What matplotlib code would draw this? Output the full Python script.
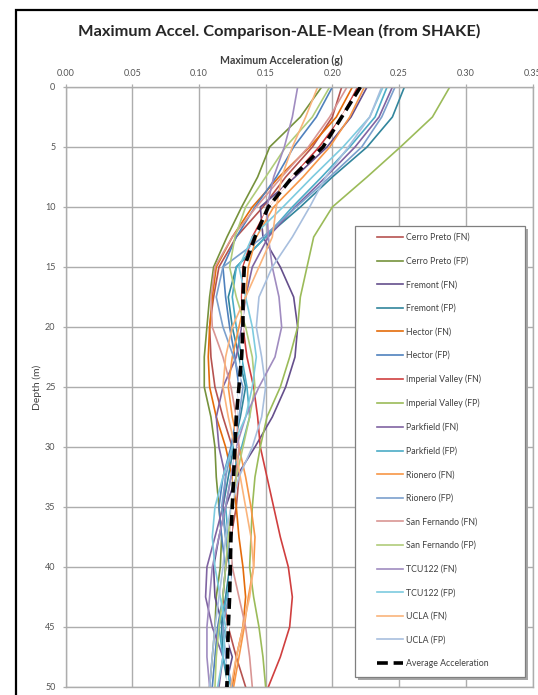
import matplotlib
matplotlib.use('Agg')
import matplotlib.pyplot as plt
from matplotlib.patches import Rectangle

plt.rcParams['font.family'] = ['Lato', 'DejaVu Sans']

depth = [0, 2.5, 5, 7.5, 10, 12.5, 15, 17.5, 20, 22.5, 25, 27.5, 30,
         32.5, 35, 37.5, 40, 42.5, 45, 47.5, 50]

names = ['Cerro Preto (FN)', 'Cerro Preto (FP)', 'Fremont (FN)', 'Fremont (FP)',
         'Hector (FN)', 'Hector (FP)', 'Imperial Valley (FN)', 'Imperial Valley (FP)',
         'Parkfield (FN)', 'Parkfield (FP)', 'Rionero (FN)', 'Rionero (FP)',
         'San Fernando (FN)', 'San Fernando (FP)', 'TCU122 (FN)', 'TCU122 (FP)',
         'UCLA (FN)', 'UCLA (FP)']

colors = ['#B65350', '#76923C', '#654F8C', '#31859C', '#E46C0A', '#4F81BD',
          '#D03F3F', '#9BBB59', '#8064A2', '#4BACC6', '#F79646', '#7BA0CD',
          '#D99694', '#B0CC7A', '#A08CC0', '#7DCBDF', '#FAB47C', '#A8BFDE']

cerro_fn = [0.207, 0.200, 0.185, 0.165, 0.148, 0.128, 0.115, 0.111, 0.108, 0.109, 0.112,
            0.118, 0.125, 0.130, 0.128, 0.124, 0.120, 0.118, 0.122, 0.128, 0.135]
cerro_fp = [0.192, 0.176, 0.153, 0.144, 0.132, 0.121, 0.111, 0.108, 0.106, 0.104, 0.104,
            0.109, 0.112, 0.113, 0.115, 0.117, 0.116, 0.113, 0.112, 0.110, 0.108]
fremont_fn = [0.226, 0.214, 0.196, 0.172, 0.146, 0.148, 0.161, 0.171, 0.174, 0.172, 0.165,
              0.155, 0.142, 0.128, 0.120, 0.115, 0.111, 0.112, 0.118, 0.125, 0.120]
fremont_fp = [0.254, 0.245, 0.226, 0.200, 0.176, 0.150, 0.128, 0.122, 0.125, 0.130, 0.135,
              0.131, 0.126, 0.122, 0.118, 0.120, 0.123, 0.120, 0.117, 0.118, 0.122]
hector_fn = [0.215, 0.203, 0.183, 0.160, 0.140, 0.125, 0.113, 0.110, 0.108, 0.107, 0.108,
             0.113, 0.120, 0.125, 0.128, 0.130, 0.133, 0.135, 0.133, 0.128, 0.125]
hector_fp = [0.200, 0.188, 0.171, 0.158, 0.142, 0.128, 0.118, 0.120, 0.123, 0.127, 0.130,
             0.128, 0.124, 0.118, 0.115, 0.117, 0.120, 0.118, 0.114, 0.112, 0.110]
imperial_fn = [0.219, 0.207, 0.190, 0.170, 0.152, 0.140, 0.133, 0.132, 0.133, 0.136, 0.141,
               0.144, 0.146, 0.151, 0.156, 0.161, 0.167, 0.170, 0.168, 0.161, 0.152]
imperial_fp = [0.288, 0.275, 0.251, 0.226, 0.200, 0.186, 0.181, 0.176, 0.174, 0.168, 0.161,
               0.151, 0.146, 0.142, 0.140, 0.139, 0.138, 0.141, 0.145, 0.148, 0.150]
parkfield_fn = [0.245, 0.235, 0.217, 0.195, 0.172, 0.152, 0.140, 0.135, 0.132, 0.128, 0.118,
                0.113, 0.115, 0.120, 0.118, 0.112, 0.106, 0.105, 0.110, 0.118, 0.115]
parkfield_fp = [0.241, 0.232, 0.213, 0.192, 0.170, 0.150, 0.128, 0.125, 0.128, 0.132, 0.136,
                0.138, 0.132, 0.124, 0.120, 0.122, 0.125, 0.121, 0.115, 0.118, 0.124]
rionero_fn = [0.224, 0.213, 0.198, 0.178, 0.156, 0.143, 0.137, 0.135, 0.130, 0.125, 0.122,
              0.125, 0.130, 0.135, 0.139, 0.142, 0.141, 0.137, 0.134, 0.130, 0.126]
rionero_fp = [0.247, 0.237, 0.222, 0.198, 0.173, 0.148, 0.118, 0.113, 0.118, 0.126, 0.133,
              0.130, 0.125, 0.120, 0.117, 0.120, 0.125, 0.122, 0.118, 0.120, 0.125]
sanfer_fn = [0.211, 0.198, 0.182, 0.162, 0.143, 0.125, 0.112, 0.109, 0.110, 0.118, 0.124,
             0.128, 0.130, 0.128, 0.125, 0.123, 0.125, 0.130, 0.135, 0.138, 0.140]
sanfer_fp = [0.198, 0.185, 0.165, 0.150, 0.135, 0.127, 0.123, 0.128, 0.135, 0.140, 0.142,
             0.138, 0.133, 0.128, 0.124, 0.122, 0.120, 0.118, 0.115, 0.113, 0.112]
tcu_fn = [0.174, 0.170, 0.164, 0.156, 0.151, 0.152, 0.155, 0.160, 0.162, 0.157, 0.145,
          0.135, 0.128, 0.124, 0.120, 0.115, 0.110, 0.108, 0.106, 0.106, 0.108]
tcu_fp = [0.238, 0.228, 0.208, 0.185, 0.163, 0.140, 0.130, 0.135, 0.140, 0.143, 0.140,
          0.135, 0.125, 0.118, 0.112, 0.110, 0.112, 0.116, 0.120, 0.118, 0.114]
ucla_fn = [0.189, 0.180, 0.170, 0.162, 0.158, 0.155, 0.145, 0.135, 0.125, 0.120, 0.118,
           0.122, 0.127, 0.131, 0.135, 0.139, 0.141, 0.138, 0.133, 0.128, 0.124]
ucla_fp = [0.237, 0.228, 0.212, 0.195, 0.183, 0.170, 0.155, 0.145, 0.143, 0.147, 0.150,
           0.147, 0.140, 0.130, 0.124, 0.120, 0.118, 0.115, 0.112, 0.110, 0.108]

average = [0.221, 0.207, 0.193, 0.170, 0.152, 0.142, 0.134, 0.133, 0.133, 0.132, 0.130,
           0.128, 0.127, 0.126, 0.125, 0.124, 0.1235, 0.123, 0.122, 0.1215, 0.121]

series = [cerro_fn, cerro_fp, fremont_fn, fremont_fp, hector_fn, hector_fp,
          imperial_fn, imperial_fp, parkfield_fn, parkfield_fp, rionero_fn, rionero_fp,
          sanfer_fn, sanfer_fp, tcu_fn, tcu_fp, ucla_fn, ucla_fp]

W, H = 538, 695


def fx(x):
    return x / W


def fy(y):
    return 1 - y / H


fig = plt.figure(figsize=(W / 100, H / 100), dpi=100)
fig.patch.set_facecolor('white')

# chart border (runs off the right and bottom of the image)
fig.patches.append(Rectangle((fx(16), fy(720)), fx(560 - 16), (720 - 10) / H,
                             transform=fig.transFigure, fill=False,
                             edgecolor='black', linewidth=1.6, zorder=1))

ax = fig.add_axes([fx(65.5), fy(687), (532.5 - 65.5) / W, (687 - 87) / H])
grid_c = '#ADADAD'

handles = []
for vals, name, c in zip(series, names, colors):
    h, = ax.plot(vals, depth, color=c, lw=1.2, label=name, zorder=2)
    handles.append(h)

ax.plot(average, depth, color='white', lw=1.2, zorder=3)
avg_h, = ax.plot(average, depth, color='black', lw=2.6, linestyle=(0, (3, 1.6)),
                 label='Average Acceleration', zorder=4)
handles.append(avg_h)

ax.set_xlim(0, 0.35)
ax.set_ylim(50, 0)
ax.set_xticks([0, 0.05, 0.10, 0.15, 0.20, 0.25, 0.30, 0.35])
ax.set_xticklabels(['0.00', '0.05', '0.10', '0.15', '0.20', '0.25', '0.30', '0.35'])
ax.set_yticks(range(0, 51, 5))
ax.xaxis.tick_top()
ax.tick_params(axis='both', labelsize=6.5, colors=grid_c, labelcolor='#555555',
               length=2.2, width=0.9)
ax.tick_params(axis='y', pad=5)
ax.tick_params(axis='x', pad=4)
ax.grid(True, color=grid_c, lw=1.0)
ax.set_axisbelow(True)
for s in ax.spines.values():
    s.set_color(grid_c)
    s.set_linewidth(1.0)

fig.text(fx(279), fy(31), 'Maximum Accel. Comparison-ALE-Mean (from SHAKE)',
         ha='center', va='center', fontsize=11.8, fontweight='bold', color='#262626')
fig.text(fx(281), fy(60), 'Maximum Acceleration (g)', ha='center', va='center',
         fontsize=7.6, fontweight='bold', color='#404040')
fig.text(fx(37), fy(387), 'Depth (m)', ha='center', va='center', rotation=90,
         fontsize=7.5, color='#404040')

# legend box with drop shadow
fig.patches.append(Rectangle((fx(358), fy(680)), (525 - 355) / W, (677 - 226) / H,
                             transform=fig.transFigure, facecolor='#A6A6A6',
                             edgecolor='none', zorder=4))
fig.patches.append(Rectangle((fx(355), fy(677)), (525 - 355) / W, (677 - 226) / H,
                             transform=fig.transFigure, facecolor='white',
                             edgecolor='#7F7F7F', linewidth=0.9, zorder=5))

leg = fig.legend(handles=handles, loc='upper left', bbox_to_anchor=(fx(377), fy(233)),
                 frameon=False, fontsize=6.3, borderpad=0, borderaxespad=0,
                 handlelength=3.0, handletextpad=0.35, labelspacing=1.67)
leg.set_zorder(6)
for t in leg.get_texts():
    t.set_color('#404040')

fig.savefig('out.png', dpi=100)
